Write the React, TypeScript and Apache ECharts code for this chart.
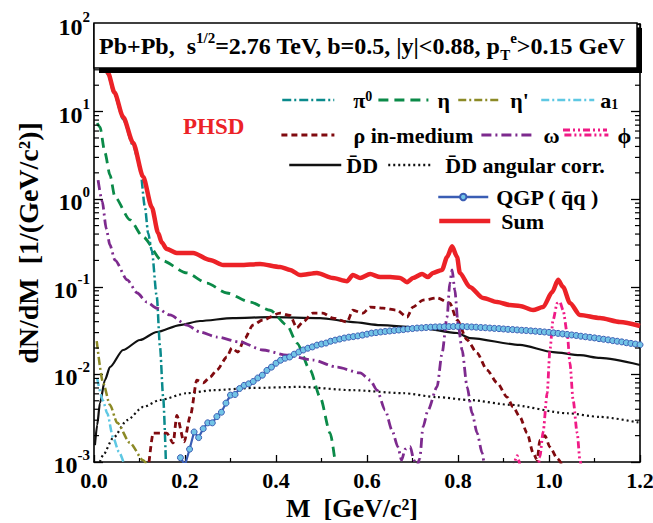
import React, { useEffect, useRef } from "react";
import * as echarts from "echarts";

const FONT = '"Liberation Serif", "Times New Roman", serif';

// ---- data (M in GeV/c^2, dN/dM) ----
const sumData = [
  [0.005, 80], [0.015, 47], [0.031, 27.6], [0.045, 16.5], [0.064, 8.7], [0.086, 4.4], [0.108, 1.8],
  [0.127, 0.81], [0.141, 0.41], [0.149, 0.32], [0.16, 0.27], [0.182, 0.243], [0.218, 0.243],
  [0.255, 0.202], [0.284, 0.177], [0.321, 0.177], [0.365, 0.182], [0.409, 0.168], [0.431, 0.156],
  [0.453, 0.136], [0.49, 0.144], [0.525, 0.126], [0.556, 0.116], [0.569, 0.136], [0.585, 0.126],
  [0.607, 0.14], [0.629, 0.129], [0.651, 0.129], [0.673, 0.126], [0.688, 0.113], [0.701, 0.126],
  [0.721, 0.14], [0.734, 0.129], [0.745, 0.144], [0.765, 0.156], [0.776, 0.219], [0.787, 0.29],
  [0.798, 0.219], [0.804, 0.144], [0.826, 0.0995], [0.855, 0.0745], [0.886, 0.067], [0.914, 0.062],
  [0.936, 0.0605], [0.965, 0.0543], [0.987, 0.0587], [1.007, 0.087], [1.02, 0.12], [1.031, 0.0995],
  [1.046, 0.0654], [1.068, 0.0477], [1.112, 0.044], [1.156, 0.0396], [1.2, 0.0357],
];
const pi0Data = [
  [0.005, 75], [0.015, 45], [0.031, 26], [0.045, 15.5], [0.064, 8.2], [0.086, 4.1], [0.101, 2.3],
  [0.112, 0.81], [0.119, 0.41], [0.127, 0.26], [0.138, 0.077], [0.145, 0.021], [0.152, 0.0055],
  [0.158, 0.001],
];
const etaData = [
  [0.007, 7.4], [0.013, 6.7], [0.024, 3.4], [0.035, 1.9], [0.046, 1.06], [0.079, 0.58], [0.108, 0.37],
  [0.149, 0.2], [0.204, 0.144], [0.248, 0.11], [0.292, 0.085], [0.343, 0.067], [0.387, 0.054],
  [0.424, 0.0366], [0.446, 0.0228], [0.475, 0.0112], [0.497, 0.0055], [0.519, 0.00214], [0.53, 0.001],
];
const etaPrimeData = [
  [0.006, 0.024], [0.02, 0.008], [0.035, 0.0045], [0.051, 0.0028], [0.079, 0.00165], [0.108, 0.00105],
  [0.118, 0.0009],
];
const a1Data = [
  [0.007, 0.009], [0.02, 0.005], [0.029, 0.0036], [0.042, 0.0019], [0.055, 0.0013], [0.066, 0.00095],
];
const rhoData = [
  [0.121, 0.001], [0.13, 0.00214], [0.145, 0.00214], [0.16, 0.00214], [0.174, 0.00165], [0.182, 0.0034],
  [0.198, 0.0017], [0.212, 0.0034], [0.226, 0.0086], [0.24, 0.008], [0.255, 0.0093], [0.27, 0.0112],
  [0.292, 0.0158], [0.303, 0.02], [0.316, 0.018], [0.332, 0.026], [0.349, 0.0366], [0.371, 0.0418],
  [0.409, 0.05], [0.431, 0.047], [0.446, 0.034], [0.459, 0.0396], [0.481, 0.05], [0.503, 0.05],
  [0.525, 0.044], [0.556, 0.0396], [0.569, 0.054], [0.591, 0.05], [0.607, 0.0587], [0.635, 0.057],
  [0.666, 0.054], [0.688, 0.045], [0.701, 0.0587], [0.723, 0.0706], [0.754, 0.0745], [0.782, 0.065],
  [0.798, 0.0418], [0.82, 0.0247], [0.842, 0.0175], [0.864, 0.0112], [0.886, 0.008], [0.908, 0.0055],
  [0.921, 0.00425], [0.936, 0.00327], [0.952, 0.00214], [0.965, 0.00127], [0.974, 0.00105],
  [0.98, 0.00178], [0.991, 0.002], [1.002, 0.00148], [1.018, 0.0011], [1.03, 0.0009],
];
const omegaData = [
  [0.009, 1.65], [0.018, 0.95], [0.027, 0.46], [0.035, 0.3], [0.046, 0.202], [0.073, 0.12], [0.095, 0.085],
  [0.116, 0.067], [0.138, 0.057], [0.167, 0.0477], [0.204, 0.0366], [0.233, 0.0305], [0.27, 0.0267],
  [0.321, 0.0234], [0.371, 0.019], [0.424, 0.0166], [0.481, 0.0146], [0.534, 0.0121], [0.585, 0.0104],
  [0.607, 0.0086], [0.622, 0.0066], [0.64, 0.0039], [0.655, 0.0023], [0.668, 0.00148], [0.676, 0.00105],
  [0.684, 0.0014], [0.695, 0.0015], [0.703, 0.00105], [0.71, 0.0009], [0.716, 0.0011], [0.723, 0.0025],
  [0.734, 0.0039], [0.754, 0.0072], [0.765, 0.0175], [0.776, 0.045], [0.782, 0.11], [0.787, 0.156],
  [0.793, 0.092], [0.8, 0.0386], [0.809, 0.019], [0.82, 0.0072], [0.831, 0.0036], [0.842, 0.00214],
  [0.853, 0.00127], [0.858, 0.0009],
];
const phiData = [
  [0.92, 0.0008], [0.93, 0.00118], [0.94, 0.0008], [0.975, 0.0008], [0.98, 0.00114], [0.987, 0.0022],
  [0.996, 0.0061], [1.002, 0.019], [1.009, 0.0418], [1.018, 0.065], [1.024, 0.067], [1.031, 0.054],
  [1.04, 0.0297], [1.046, 0.0135], [1.053, 0.0051], [1.062, 0.00214], [1.068, 0.00105], [1.072, 0.0008],
];
const ddData = [
  [0.002, 0.00156], [0.007, 0.00264], [0.013, 0.0047], [0.024, 0.0086], [0.035, 0.0121], [0.064, 0.019],
  [0.101, 0.0247], [0.138, 0.0305], [0.189, 0.0366], [0.233, 0.0407], [0.305, 0.044], [0.387, 0.045],
  [0.497, 0.044], [0.569, 0.0396], [0.629, 0.0366], [0.716, 0.034], [0.798, 0.0297], [0.826, 0.026],
  [0.936, 0.0217], [1.009, 0.018], [1.068, 0.0166], [1.112, 0.0154], [1.2, 0.0128],
];
const ddAngData = [
  [0.013, 0.001], [0.02, 0.0012], [0.042, 0.00188], [0.073, 0.00301], [0.108, 0.00425], [0.145, 0.0051],
  [0.204, 0.0061], [0.262, 0.0066], [0.349, 0.007], [0.453, 0.0072], [0.569, 0.0066], [0.679, 0.0061],
  [0.754, 0.0055], [0.826, 0.0051], [0.914, 0.0045], [1.04, 0.0036], [1.112, 0.00327], [1.2, 0.0028],
];
const qgpData = [
  [0.19, 0.00112], [0.2, 0.00092], [0.21, 0.0014], [0.22, 0.0022], [0.23, 0.0019], [0.24, 0.0024],
  [0.25, 0.0028], [0.26, 0.0028], [0.27, 0.0033], [0.28, 0.0037], [0.29, 0.0047], [0.3, 0.0058],
  [0.31, 0.0059], [0.32, 0.0069], [0.33, 0.0075], [0.34, 0.0078], [0.35, 0.0083], [0.36, 0.0091],
  [0.37, 0.0098], [0.38, 0.0111], [0.39, 0.0121], [0.4, 0.0134], [0.41, 0.0145], [0.42, 0.0153],
  [0.43, 0.0158], [0.44, 0.017], [0.45, 0.018], [0.46, 0.019], [0.47, 0.0199], [0.48, 0.0206],
  [0.49, 0.0216], [0.5, 0.0222], [0.51, 0.0228], [0.52, 0.0239], [0.53, 0.0246], [0.54, 0.0253],
  [0.55, 0.026], [0.56, 0.0266], [0.57, 0.027], [0.58, 0.0275], [0.59, 0.0281], [0.6, 0.0288],
  [0.61, 0.0296], [0.62, 0.03], [0.63, 0.0305], [0.64, 0.0309], [0.65, 0.0313], [0.66, 0.0317],
  [0.67, 0.0321], [0.68, 0.0325], [0.69, 0.033], [0.7, 0.0334], [0.71, 0.0338], [0.72, 0.034],
  [0.73, 0.0343], [0.74, 0.0346], [0.75, 0.0348], [0.76, 0.0349], [0.77, 0.035], [0.78, 0.0351],
  [0.79, 0.0352], [0.8, 0.0353], [0.81, 0.0352], [0.82, 0.035], [0.83, 0.0348], [0.84, 0.0346],
  [0.85, 0.0343], [0.86, 0.0341], [0.87, 0.0338], [0.88, 0.0335], [0.89, 0.0333], [0.9, 0.033],
  [0.91, 0.0327], [0.92, 0.0325], [0.93, 0.0322], [0.94, 0.0319], [0.95, 0.0317], [0.96, 0.0314],
  [0.97, 0.0311], [0.98, 0.0308], [0.99, 0.0305], [1.0, 0.0302], [1.01, 0.0298], [1.02, 0.0294],
  [1.03, 0.029], [1.04, 0.0286], [1.05, 0.0282], [1.06, 0.0278], [1.07, 0.0273], [1.08, 0.0269],
  [1.09, 0.0265], [1.1, 0.0261], [1.11, 0.0256], [1.12, 0.0252], [1.13, 0.0248], [1.14, 0.0243],
  [1.15, 0.0239], [1.16, 0.0235], [1.17, 0.023], [1.18, 0.0226], [1.19, 0.0222], [1.2, 0.0218],
];

const X_MIN = 0;
const X_MAX = 1.2;
const X_STEP = 0.2;
const Y_MIN = 0.001;
const Y_MAX = 100;
const minorDecades = [-3, -2, -1, 0, 1];
const minorMultipliers = [2, 3, 4, 5, 6, 7, 8, 9];

const NAMES = {
  pi0: "π0",
  eta: "η",
  etaP: "η'",
  a1: "a1",
  rho: "ρ in-medium",
  omega: "ω",
  phi: "ϕ",
  dd: "D\u0304D",
  ddAng: "D\u0304D angular corr.",
  qgp: "QGP ( q\u0304q )",
  sum: "Sum",
};

const STYLE: Record<string, { color: string; width: number; dash: any }> = {
  [NAMES.ddAng]: { color: "#111", width: 2.2, dash: [2, 3] },
  [NAMES.dd]: { color: "#111", width: 2.2, dash: "solid" },
  [NAMES.a1]: { color: "#5ec8e3", width: 2.5, dash: [8, 3, 2, 3] },
  [NAMES.etaP]: { color: "#8c8a26", width: 2.5, dash: [8, 3, 2, 3] },
  [NAMES.eta]: { color: "#0b8a48", width: 2.8, dash: [10, 6] },
  [NAMES.pi0]: { color: "#0a8a8c", width: 2.5, dash: [9, 3, 2, 3] },
  [NAMES.rho]: { color: "#800a0f", width: 2.8, dash: [6, 4] },
  [NAMES.omega]: { color: "#7d2a8e", width: 2.8, dash: [10, 4, 2, 4] },
  [NAMES.phi]: { color: "#f01a86", width: 2.8, dash: [7, 3, 2, 3, 2, 3] },
  [NAMES.qgp]: { color: "#3a5db4", width: 2.2, dash: "solid" },
  [NAMES.sum]: { color: "#ec2227", width: 4.5, dash: "solid" },
};

export default function App() {
  const ref = useRef<HTMLDivElement>(null);

  useEffect(() => {
    if (!ref.current) return;
    const chart = echarts.init(ref.current, undefined, { renderer: "svg" });

    const minorTickData: number[][] = [];
    minorDecades.forEach((e) =>
      minorMultipliers.forEach((k) => minorTickData.push([X_MIN, k * Math.pow(10, e)]))
    );

    const txt = { fontFamily: FONT, fontWeight: "bold" as const, color: "#000" };

    const lineSeries = (name: string, data: number[][], extra: any = {}) => ({
      type: "line",
      name,
      data,
      symbol: "none",
      smooth: 0.25,
      smoothMonotone: "x",
      clip: true,
      lineStyle: { color: STYLE[name].color, width: STYLE[name].width, type: STYLE[name].dash },
      itemStyle: { color: STYLE[name].color },
      z: 3,
      ...extra,
    });

    const LFS = 22;
    const legendItem = (
      name: string, label: string, left: number, cy: number, w: number, pad: number,
      showSymbol = false, ih = 12
    ) => {
      const s = STYLE[name];
      return {
        show: true,
        data: [name],
        left,
        top: cy - ih / 2,
        orient: "horizontal",
        padding: 0,
        itemWidth: w,
        itemHeight: ih,
        selectedMode: false,
        lineStyle: { width: Math.max(s.width, 2.5), color: s.color, type: s.dash, opacity: 1 },
        itemStyle: showSymbol
          ? {}
          : { color: "rgba(0,0,0,0)", borderColor: "rgba(0,0,0,0)", borderWidth: 0, opacity: 0 },
        formatter: () => (pad > 0 ? `{sp| }${label}` : label),
        textStyle: {
          ...txt,
          fontSize: LFS,
          rich: {
            sp: { width: pad, fontSize: LFS },
            sup: { ...txt, fontSize: 14, verticalAlign: "top", lineHeight: 14 },
            sub: { ...txt, fontSize: 14, verticalAlign: "bottom", lineHeight: 14 },
          },
        },
      };
    };

    const option: any = {
      animation: false,
      backgroundColor: "#fff",
      grid: {
        left: 94, right: 13, top: 24, bottom: 61,
        containLabel: false, outerBoundsMode: "none",
      },
      xAxis: [
        {
          type: "value",
          min: X_MIN,
          max: X_MAX,
          interval: X_STEP,
          position: "bottom",
          axisLine: { show: true, onZero: false, lineStyle: { color: "#000", width: 1.6 } },
          axisTick: { show: true, inside: true, length: 7, lineStyle: { color: "#000", width: 1.3 } },
          minorTick: { show: true, splitNumber: 2, length: 4, lineStyle: { color: "#000", width: 1.2 } },
          splitLine: { show: false },
          axisLabel: { ...txt, fontSize: 22, margin: 7, formatter: (v: number) => v.toFixed(1) },
          name: "M  [GeV/c²]",
          nameLocation: "middle",
          nameGap: 33,
          nameMoveOverlap: false,
          nameTextStyle: { ...txt, fontSize: 26, padding: [0, 30, 0, 0] },
        },
        {
          type: "value",
          min: X_MIN,
          max: X_MAX,
          interval: X_STEP,
          position: "top",
          axisLine: { show: true, onZero: false, lineStyle: { color: "#000", width: 1.6 } },
          axisTick: { show: true, inside: true, length: 7, lineStyle: { color: "#000", width: 1.3 } },
          minorTick: { show: true, splitNumber: 2, length: 4, lineStyle: { color: "#000", width: 1.2 } },
          splitLine: { show: false },
          axisLabel: { show: false },
        },
      ],
      yAxis: [
        {
          type: "log",
          logBase: 10,
          min: Y_MIN,
          max: Y_MAX,
          position: "left",
          axisLine: { show: true, onZero: false, lineStyle: { color: "#000", width: 1.6 } },
          axisTick: { show: true, inside: true, length: 9, lineStyle: { color: "#000", width: 1.3 } },
          splitLine: { show: false },
          axisLabel: {
            margin: 4,
            formatter: (v: number) => `{b|10}{s|${Math.round(Math.log10(v))}}`,
            rich: {
              b: { ...txt, fontSize: 24, lineHeight: 30, verticalAlign: "bottom" },
              s: { ...txt, fontSize: 15, lineHeight: 15, verticalAlign: "top" },
            },
          },
          name: "dN/dM  [1/(GeV/c²)]",
          nameLocation: "middle",
          nameGap: 44,
          nameTextStyle: { ...txt, fontSize: 28 },
        },
        {
          type: "log",
          logBase: 10,
          min: Y_MIN,
          max: Y_MAX,
          position: "right",
          axisLine: { show: true, onZero: false, lineStyle: { color: "#000", width: 1.6 } },
          axisTick: { show: true, inside: true, length: 9, lineStyle: { color: "#000", width: 1.3 } },
          splitLine: { show: false },
          axisLabel: { show: false },
        },
      ],
      legend: [
        legendItem(NAMES.pi0, "π{sup|0}", 281, 95, 52, 14),
        legendItem(NAMES.eta, "η", 377, 95, 50, 4),
        legendItem(NAMES.etaP, "η'", 457, 95, 43, 4),
        legendItem(NAMES.a1, "a{sub|1}", 540, 95, 53, 1),
        legendItem(NAMES.rho, "ρ in-medium", 280, 130, 53, 14),
        legendItem(NAMES.omega, "ω", 480, 130, 50, 7),
        legendItem(NAMES.phi, "ϕ", 563, 130, 44, 4),
        legendItem(NAMES.dd, NAMES.dd, 288, 160, 52, 0),
        legendItem(NAMES.ddAng, NAMES.ddAng, 387, 160, 45, 7),
        legendItem(NAMES.qgp, NAMES.qgp, 437, 190, 50, 3, true, 8),
        legendItem(NAMES.sum, NAMES.sum, 437, 216, 51, 6),
      ],
      graphic: [
        { type: "rect", z: 100, shape: { x: 99, y: 28, width: 543, height: 45 }, style: { fill: "#000" } },
        {
          type: "rect",
          z: 101,
          shape: { x: 94, y: 23, width: 543, height: 45 },
          style: { fill: "#fff", stroke: "#000", lineWidth: 1.5 },
        },
        {
          type: "text",
          z: 102,
          x: 99,
          y: 46,
          style: {
            text: "{n|Pb+Pb,  s}{sup|1/2}{n|=2.76 TeV, b=0.5, |y|<0.88, p}{sub|T}{sup|e}{n|>0.15 GeV}",
            verticalAlign: "middle",
            rich: {
              n: { ...txt, fill: "#000", fontSize: 24, lineHeight: 32 },
              sup: { ...txt, fill: "#000", fontSize: 15, lineHeight: 15, verticalAlign: "top" },
              sub: { ...txt, fill: "#000", fontSize: 15, lineHeight: 15, verticalAlign: "bottom" },
            },
          },
        },
        {
          type: "text",
          z: 102,
          x: 183,
          y: 126,
          style: {
            text: "PHSD",
            fill: "#ec2227",
            fontFamily: FONT,
            fontWeight: "bold",
            fontSize: 23,
            verticalAlign: "middle",
          },
        },
        // sample line for the phi legend entry (its automatic icon is not drawn reliably)
        {
          type: "line",
          z: 50,
          shape: { x1: 563, y1: 130, x2: 607, y2: 130 },
          style: { stroke: STYLE[NAMES.phi].color, lineWidth: 2.8, lineDash: STYLE[NAMES.phi].dash },
        },
      ],
      series: [
        {
          type: "custom",
          name: "minor ticks",
          silent: true,
          clip: false,
          z: 5,
          data: minorTickData,
          renderItem: (params: any, api: any) => {
            const v = api.value(1);
            const pl = api.coord([X_MIN, v]);
            const pr = api.coord([X_MAX, v]);
            const st = { stroke: "#000", lineWidth: 1.2 };
            return {
              type: "group",
              children: [
                { type: "line", shape: { x1: pl[0], y1: pl[1], x2: pl[0] + 5, y2: pl[1] }, style: st },
                { type: "line", shape: { x1: pr[0] - 5, y1: pr[1], x2: pr[0], y2: pr[1] }, style: st },
              ],
            };
          },
        },
        lineSeries(NAMES.ddAng, ddAngData),
        lineSeries(NAMES.dd, ddData),
        lineSeries(NAMES.a1, a1Data),
        lineSeries(NAMES.etaP, etaPrimeData),
        lineSeries(NAMES.eta, etaData),
        lineSeries(NAMES.pi0, pi0Data),
        lineSeries(NAMES.rho, rhoData),
        lineSeries(NAMES.omega, omegaData),
        lineSeries(NAMES.phi, phiData),
        {
          type: "line",
          name: NAMES.qgp,
          data: qgpData,
          symbol: "circle",
          symbolSize: 6,
          showSymbol: true,
          clip: true,
          z: 4,
          lineStyle: { color: STYLE[NAMES.qgp].color, width: STYLE[NAMES.qgp].width },
          itemStyle: { color: "#72c4e6", borderColor: "#3a5db4", borderWidth: 1 },
        },
        lineSeries(NAMES.sum, sumData, { z: 6 }),
      ],
    };

    chart.setOption(option);
    return () => chart.dispose();
  }, []);

  return (
    <div
      ref={ref}
      style={{ position: "fixed", left: 0, top: 0, width: 653, height: 523, background: "#fff" }}
    />
  );
}
